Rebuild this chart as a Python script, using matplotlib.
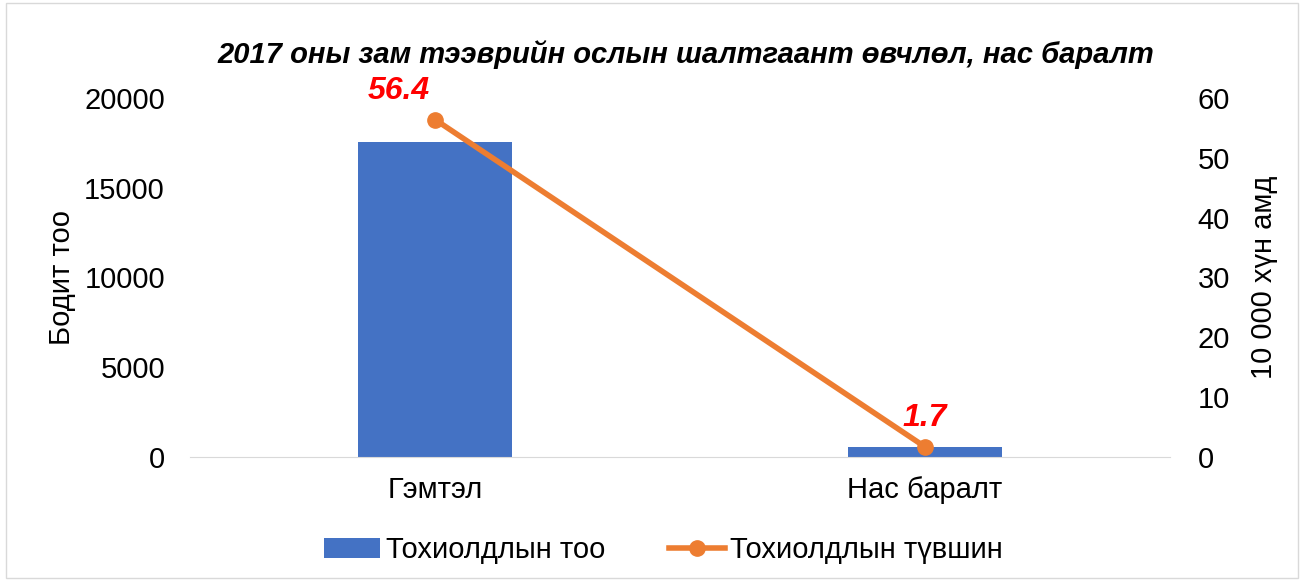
import matplotlib
matplotlib.use("Agg")
import matplotlib.pyplot as plt
from matplotlib.patches import Rectangle

plt.rcParams['font.family'] = ['Liberation Sans', 'DejaVu Sans']

categories = ["Гэмтэл", "Нас баралт"]
counts = [17550, 560]
rates = [56.4, 1.7]

fig = plt.figure(figsize=(13.04, 5.81), dpi=100)
ax = fig.add_axes([190/1304, 1-457/581, 980/1304, 359/581])
ax2 = ax.twinx()

x = [0, 1]
ax.bar(x, counts, width=0.315, color="#4472C4", label="Тохиолдлын тоо", zorder=2)
ax2.plot(x, rates, color="#ED7D31", lw=4, marker="o", ms=11, label="Тохиолдлын түвшин", zorder=3)

ax.set_xlim(-0.5, 1.5)
ax.set_ylim(0, 20000)
ax2.set_ylim(0, 60)
ax.set_yticks(range(0, 20001, 5000))
ax2.set_yticks(range(0, 61, 10))
ax.set_xticks(x)
ax.set_xticklabels(categories)

for a in (ax, ax2):
    for s in a.spines.values():
        s.set_visible(False)
    a.tick_params(length=0, labelsize=21, colors="black")
ax.spines["bottom"].set_visible(True)
ax.spines["bottom"].set_color("#D9D9D9")
ax.tick_params(axis="x", pad=14)
ax.tick_params(axis="y", pad=18)
ax2.tick_params(axis="y", pad=20)

ax.set_ylabel("Бодит тоо", fontsize=21, labelpad=6)
ax2.set_ylabel("10 000 хүн амд", fontsize=21, labelpad=14)

for xi, v in zip(x, rates):
    ax2.annotate(f"{v}", (xi, v), xytext=(-4 if xi == 0 else 0, 10), textcoords="offset points",
                 ha="right" if xi == 0 else "center", va="bottom",
                 color="red", fontsize=23, fontweight="bold", fontstyle="italic")

fig.text(0.526, 1-55/581, "2017 оны зам тээврийн ослын шалтгаант өвчлөл, нас баралт",
         ha="center", va="center", fontsize=21, fontweight="bold", fontstyle="italic")

h1, l1 = ax.get_legend_handles_labels()
h2, l2 = ax2.get_legend_handles_labels()
fig.legend(h1 + h2, l1 + l2, loc="center", bbox_to_anchor=(0.509, 1-550/581), ncol=2,
           frameon=False, fontsize=21, handlelength=1.9, columnspacing=2.2, handletextpad=0.2)

fig.patches.append(Rectangle((6/1304, 3/581), 1-12/1304, 1-6/581, transform=fig.transFigure,
                             fill=False, edgecolor="#D9D9D9", lw=1))

fig.savefig("out.png", dpi=100)
